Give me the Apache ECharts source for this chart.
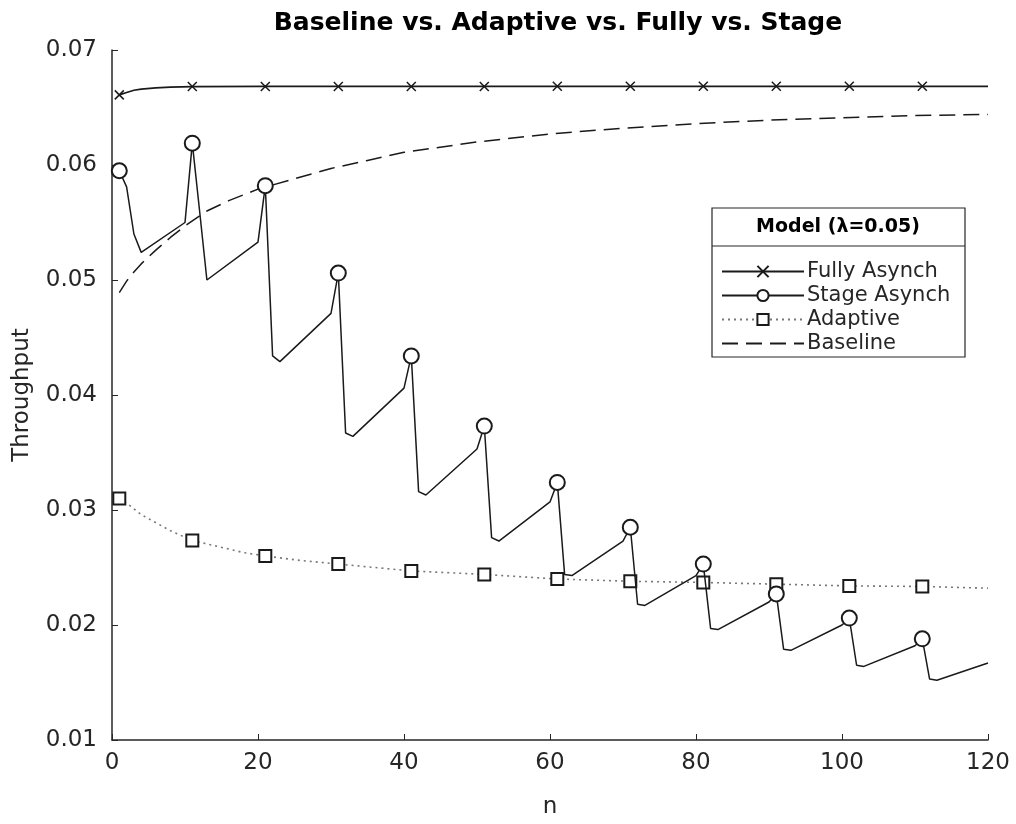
<!DOCTYPE html>
<html>
<head>
  <meta charset="UTF-8">
  <title>Baseline vs. Adaptive vs. Fully vs. Stage</title>
  <script src="https://cdn.jsdelivr.net/npm/echarts@6/dist/echarts.min.js"></script>
  <style>
    html, body { margin: 0; padding: 0; background: #fff; }
    #chart { width: 1016px; height: 824px; }
  </style>
</head>
<body>
  <div id="chart"></div>
  <script>
    // x ticks and y ticks
    const xTicks = [0, 20, 40, 60, 80, 100, 120];
    const yTicks = [0.01, 0.02, 0.03, 0.04, 0.05, 0.06, 0.07];

    // Fully Asynch
    const fullyN = [1, 2, 3, 4, 6, 8, 11, 21, 31, 41, 51, 61, 71, 81, 91, 101, 111, 120];
    const fullyV = [0.0661, 0.0663, 0.0665, 0.0666, 0.0667, 0.06678, 0.06682, 0.06683, 0.06683, 0.06683,
      0.06683, 0.06684, 0.06684, 0.06684, 0.06684, 0.06684, 0.06684, 0.06684];

    // Stage Asynch (corners of the sawtooth)
    const stageN = [1, 2, 3, 4, 10,
      11, 12, 13, 20,
      21, 22, 23, 30,
      31, 32, 33, 40,
      41, 42, 43, 50,
      51, 52, 53, 60,
      61, 62, 63, 70,
      71, 72, 73, 80,
      81, 82, 83, 90,
      91, 92, 93, 100,
      101, 102, 103, 110,
      111, 112, 113, 120];
    const stageV = [0.0595, 0.0581, 0.0540, 0.0524, 0.0550,
      0.0619, 0.0560, 0.0500, 0.0533,
      0.0582, 0.0434, 0.0429, 0.0471,
      0.0506, 0.0367, 0.0364, 0.0406,
      0.0434, 0.0316, 0.0313, 0.0353,
      0.0373, 0.0276, 0.0273, 0.0307,
      0.0324, 0.0244, 0.0243, 0.0273,
      0.0285, 0.0218, 0.0217, 0.0243,
      0.0253, 0.0197, 0.0196, 0.0220,
      0.0227, 0.0179, 0.0178, 0.0200,
      0.0206, 0.0165, 0.0164, 0.0182,
      0.0188, 0.0153, 0.0152, 0.0167];

    // Adaptive
    const adaptN = [1, 2, 3, 4, 6, 8, 11, 14, 18, 21, 26, 31, 36, 41, 51, 61, 71, 81, 91, 101, 111, 120];
    const adaptV = [0.0310, 0.0306, 0.0301, 0.0296, 0.0289, 0.0282, 0.02735, 0.0269, 0.0263, 0.0260, 0.0256,
      0.0253, 0.0250, 0.0247, 0.0244, 0.0240, 0.0238, 0.0237, 0.02355, 0.0234, 0.02335, 0.0232];

    // Baseline
    const baseN = [1, 2, 3, 4, 5, 6, 8, 10, 13, 16, 20, 25, 30, 35, 40, 50, 60, 70, 80, 90, 100, 110, 120];
    const baseV = [0.0489, 0.0499, 0.0507, 0.0514, 0.0520, 0.0526, 0.0537, 0.0547, 0.0560, 0.0569, 0.0579,
      0.0588, 0.0597, 0.0604, 0.0611, 0.0620, 0.0627, 0.0632, 0.0636, 0.0639, 0.0641, 0.0643, 0.0644];

    const font = 'DejaVu Sans, Liberation Sans, sans-serif';
    const ink = '#1a1a1a';
    const crossPath = 'path://M0,0L10,10M10,0L0,10';

    // markers only every 10th point (n = 1, 11, 21, ...)
    function withMarkers(ns, vs) {
      return ns.map((n, i) => {
        const item = { value: [n, vs[i]] };
        if ((n - 1) % 10 !== 0) item.symbol = 'none';
        return item;
      });
    }

    const chart = echarts.init(document.getElementById('chart'));

    const option = {
      animation: false,
      backgroundColor: '#fff',
      title: {
        text: 'Baseline vs. Adaptive vs. Fully vs. Stage',
        left: 553,
        top: 6,
        textAlign: 'center',
        textStyle: { fontFamily: font, fontSize: 25, fontWeight: 'bold', color: '#000' }
      },
      grid: { left: 112, right: 28, top: 50, bottom: 82 },
      xAxis: {
        type: 'value',
        min: 0,
        max: 120,
        interval: 20,
        name: 'n',
        nameLocation: 'middle',
        nameGap: 56,
        nameTextStyle: { fontFamily: font, fontSize: 23, color: '#262626' },
        axisLine: { lineStyle: { color: '#262626', width: 1.5 } },
        axisTick: { inside: true, length: 6, lineStyle: { color: '#262626' } },
        axisLabel: { fontFamily: font, fontSize: 23, color: '#262626', margin: 12,
          formatter: v => xTicks.includes(v) ? String(v) : '' },
        splitLine: { show: false }
      },
      yAxis: {
        type: 'value',
        min: 0.01,
        max: 0.07,
        interval: 0.01,
        name: 'Throughput',
        nameLocation: 'middle',
        nameGap: 78,
        nameTextStyle: { fontFamily: font, fontSize: 23, color: '#262626' },
        axisLine: { show: true, lineStyle: { color: '#262626', width: 1.5 } },
        axisTick: { show: true, inside: true, length: 6, lineStyle: { color: '#262626' } },
        axisLabel: { fontFamily: font, fontSize: 23, color: '#262626', margin: 15,
          formatter: v => {
            const t = yTicks.find(y => Math.abs(y - v) < 1e-9);
            return t !== undefined ? t.toFixed(2) : '';
          } },
        splitLine: { show: false }
      },
      legend: {
        orient: 'vertical',
        left: 716,
        top: 256,
        itemWidth: 82,
        itemHeight: 14,
        itemGap: 3,
        textStyle: { fontFamily: font, fontSize: 21, lineHeight: 20, color: '#262626', padding: [0, 0, 0, -2] },
        data: ['Fully Asynch', 'Stage Asynch', 'Adaptive', { name: 'Baseline', itemStyle: { opacity: 0 } }]
      },
      graphic: [
        {
          type: 'rect',
          shape: { x: 712, y: 208, width: 253, height: 149 },
          style: { fill: '#fff', stroke: '#262626', lineWidth: 1.2 },
          z: 3
        },
        {
          type: 'line',
          shape: { x1: 712, y1: 246, x2: 965, y2: 246 },
          style: { stroke: '#262626', lineWidth: 1.2 },
          z: 3
        },
        {
          type: 'text',
          x: 838,
          y: 227,
          style: {
            text: 'Model (\u03bb=0.05)',
            fontFamily: font,
            fontSize: 19,
            fontWeight: 'bold',
            fill: '#000',
            align: 'center',
            verticalAlign: 'middle'
          },
          z: 4
        }
      ],
      series: [
        {
          name: 'Fully Asynch',
          type: 'line',
          data: withMarkers(fullyN, fullyV),
          symbol: crossPath,
          symbolSize: 9,
          showAllSymbol: true,
          lineStyle: { color: ink, width: 1.7 },
          itemStyle: { color: 'none', borderColor: ink, borderWidth: 1.5 },
          z: 5
        },
        {
          name: 'Stage Asynch',
          type: 'line',
          data: withMarkers(stageN, stageV),
          symbol: 'emptyCircle',
          symbolSize: 15,
          showAllSymbol: true,
          lineStyle: { color: ink, width: 1.5 },
          itemStyle: { color: ink, borderColor: ink, borderWidth: 1.5 },
          z: 5
        },
        {
          name: 'Adaptive',
          type: 'line',
          data: withMarkers(adaptN, adaptV),
          symbol: 'emptyRect',
          symbolSize: 12,
          showAllSymbol: true,
          lineStyle: { color: '#777', width: 1.6, type: [2, 4] },
          itemStyle: { color: ink, borderColor: ink, borderWidth: 1.5 },
          z: 4
        },
        {
          name: 'Baseline',
          type: 'line',
          data: baseN.map((n, i) => [n, baseV[i]]),
          symbol: 'none',
          lineStyle: { color: ink, width: 1.5, type: [16, 8] },
          itemStyle: { color: ink },
          z: 4
        }
      ]
    };

    chart.setOption(option);
  </script>
</body>
</html>
